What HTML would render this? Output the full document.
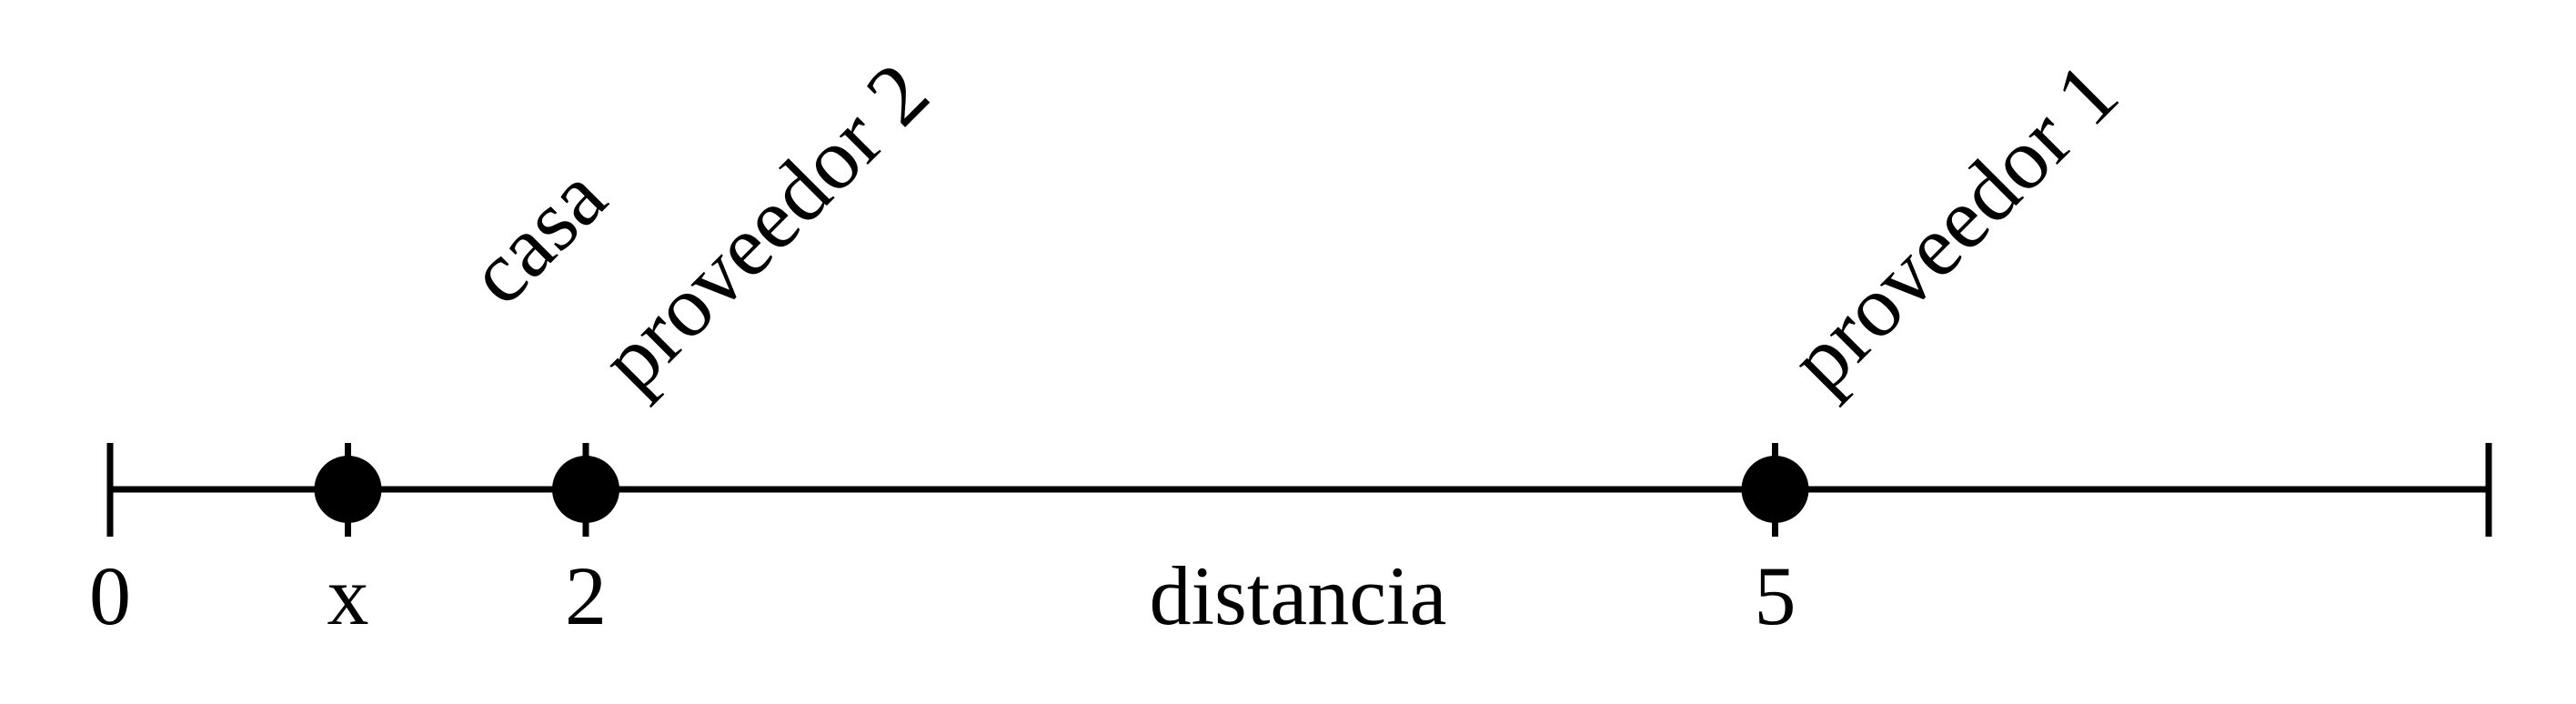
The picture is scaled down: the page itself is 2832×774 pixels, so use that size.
<!DOCTYPE html>
<html><head><meta charset="utf-8"><style>
html,body{margin:0;padding:0;background:#fff;}
svg{display:block;}
text{font-family:"Liberation Serif",serif;fill:#000;}
</style></head><body>
<svg id="chart" width="2832" height="774" viewBox="0 0 2832 774">
<g id="g"></g>
</svg>
<script>
// positions along the drawn line (axis units, 0..10)
const tickValues=[0,1,2,7];
const tickLabels=["0","x","2","5"];
const pointValues=[1,2,7];
const pointLabels=["casa","proveedor 2","proveedor 1"];
const domainMax=10;
const axisTitle="distancia";

const NS="http://www.w3.org/2000/svg";
const g=document.getElementById('g');
const x0=121,x1=2736,yL=538;
function sx(v){return x0+(x1-x0)*v/domainMax;}
function mk(t,a,p){const e=document.createElementNS(NS,t);for(const k in a)e.setAttribute(k,a[k]);(p||g).appendChild(e);return e;}
let e=mk('line',{x1:sx(0),x2:sx(domainMax),y1:yL,y2:yL,stroke:'#000','stroke-width':7});


[0,domainMax].forEach(v=>{const t=mk('line',{x1:sx(v),x2:sx(v),y1:487,y2:590,stroke:'#000','stroke-width':7});

});
tickValues.forEach((v,i)=>{
const t=mk('line',{x1:sx(v),x2:sx(v),y1:487,y2:590,stroke:'#000','stroke-width':7});


const l=mk('text',{x:sx(v),y:686,'text-anchor':'middle','font-size':92});
l.textContent=tickLabels[i];


});
pointValues.forEach((v,i)=>{
const c=mk('circle',{cx:sx(v),cy:yL,r:37,fill:'#000'});


const isCasa=i===0;
const ax=sx(v)+(isCasa?172:56), ay=isCasa?340:435;
const l=mk('text',{x:ax,y:ay,'font-size':96,transform:'rotate(-45 '+ax+' '+ay+')'});
l.textContent=pointLabels[i];


});
const at=mk('text',{x:1427,y:686,'text-anchor':'middle','font-size':92});
at.textContent=axisTitle;


</script>
</body></html>
